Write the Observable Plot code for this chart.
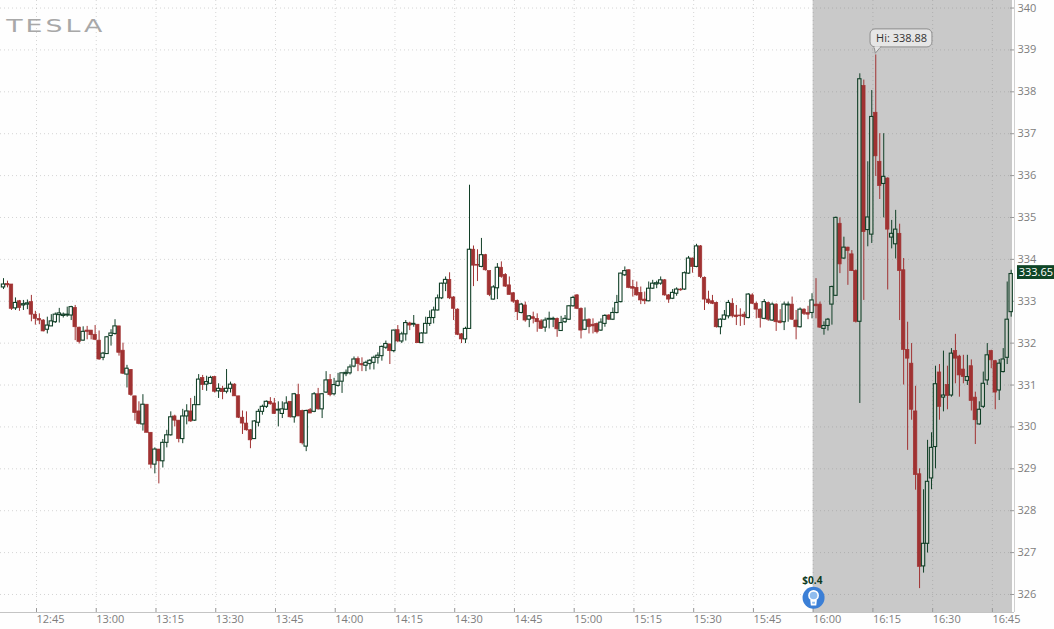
<!DOCTYPE html>
<html>
<head>
<meta charset="utf-8">
<script src="https://cdn.jsdelivr.net/npm/d3@7"></script>
<script src="https://cdn.jsdelivr.net/npm/@observablehq/plot@0.6"></script>
<style>
html,body{margin:0;padding:0;background:#fefefe;overflow:hidden}
svg{display:block}
</style>
</head>
<body>
<div id="chart"></div>
<script>
const firstBarMinute = 756.715; // 12:36 bar, minutes since midnight
const open = [
333.33,333.41,333.40,332.83,333.00,332.90,332.92,332.98,332.68,332.58,
332.54,332.32,332.40,332.50,332.67,332.65,332.66,332.66,332.84,332.37,
332.06,332.30,332.30,332.20,332.06,331.65,331.74,332.17,332.22,332.40,
331.82,331.25,331.36,330.73,330.37,330.06,330.53,329.86,329.10,329.46,
329.18,329.62,329.80,330.25,330.15,329.71,330.25,330.37,330.15,330.52,
331.17,331.01,331.03,331.19,330.85,330.91,330.84,330.91,331.01,330.73,
330.22,330.08,329.92,329.71,330.10,330.36,330.48,330.60,330.56,330.39,
330.31,330.41,330.60,330.23,330.76,330.38,329.53,330.40,330.36,330.78,
330.42,330.82,331.12,330.78,330.98,331.08,331.26,331.28,331.44,331.62,
331.50,331.46,331.50,331.53,331.65,331.69,331.89,331.97,331.81,332.31,
332.04,332.21,332.47,332.44,332.44,332.00,332.23,332.46,332.60,332.78,
333.07,333.42,333.51,333.09,332.80,332.21,332.09,332.34,334.23,333.87,
333.82,334.10,333.72,333.04,333.31,333.80,333.63,333.38,333.19,333.01,
332.72,332.90,332.56,332.62,332.58,332.52,332.37,332.56,332.56,332.58,
332.29,332.50,332.56,332.88,333.14,332.82,332.32,332.56,332.44,332.46,
332.30,332.46,332.66,332.56,332.72,332.98,333.62,333.74,333.34,333.32,
333.20,333.04,333.00,333.30,333.40,333.42,333.50,333.14,333.06,333.18,
333.28,333.28,333.66,334.02,333.82,334.31,333.56,333.04,333.00,332.96,
332.38,332.56,332.64,332.94,332.66,332.66,332.68,332.60,333.14,332.94,
332.80,332.58,332.96,332.54,332.92,332.52,332.50,332.90,332.92,332.54,
332.38,332.80,332.72,332.72,332.92,332.92,332.34,332.41,332.92,333.13,
334.85,334.02,334.28,334.12,333.72,332.51,338.14,334.70,334.59,337.50,
336.33,335.80,335.93,334.52,334.36,334.61,333.74,331.84,331.51,330.37,
328.87,326.67,327.21,328.77,329.52,331.30,330.70,331.00,330.75,331.81,
331.68,331.37,331.10,331.45,330.70,330.06,330.48,331.11,331.81,331.57,
330.87,331.31,331.65,332.74];
const high = [
333.54,333.48,333.40,333.08,333.02,333.02,333.03,333.14,332.76,332.70,
332.56,332.62,332.68,332.72,332.83,332.72,332.86,332.88,332.90,332.38,
332.39,332.40,332.30,332.42,332.29,331.78,332.16,332.32,332.56,332.40,
332.00,331.47,331.37,330.73,330.60,330.77,330.53,329.86,329.50,329.46,
329.70,329.92,330.36,330.28,330.15,330.42,330.53,330.68,330.73,331.25,
331.23,331.21,331.21,331.21,331.03,330.97,331.37,331.07,331.03,330.73,
330.38,330.36,329.94,330.15,330.42,330.52,330.62,330.70,330.68,330.60,
330.60,330.72,330.60,330.80,331.02,330.40,330.40,330.44,330.82,330.92,
330.80,331.32,331.25,331.16,331.28,331.28,331.36,331.48,331.67,331.67,
331.65,331.57,331.61,331.69,331.77,331.93,332.05,331.97,332.31,332.42,
332.26,332.54,332.50,332.66,332.44,332.25,332.62,332.77,332.86,333.15,
333.43,333.58,333.68,333.11,332.82,332.23,332.38,335.77,334.32,334.23,
334.50,334.12,333.72,333.37,333.90,333.94,333.66,333.58,333.21,333.03,
332.95,332.98,332.66,332.74,332.70,332.56,332.60,332.74,332.62,332.60,
332.64,332.66,332.90,333.12,333.16,332.84,332.84,332.58,332.58,332.48,
332.58,332.68,332.68,332.84,333.14,333.67,333.82,333.75,333.50,333.46,
333.34,333.22,333.46,333.50,333.48,333.58,333.52,333.16,333.28,333.32,
333.30,333.70,334.07,334.03,334.36,334.33,333.58,333.24,333.14,332.98,
332.58,332.78,333.02,333.06,332.90,332.82,332.74,333.18,333.18,332.98,
332.82,333.04,332.98,332.96,332.94,332.80,332.98,332.98,333.10,332.78,
332.84,332.82,332.88,333.18,333.54,332.98,332.51,332.59,333.36,335.01,
334.99,334.53,334.29,334.21,333.75,338.43,338.28,336.33,338.03,338.88,
337.00,337.00,335.95,334.93,335.17,334.84,334.02,332.50,331.99,330.97,
329.00,328.50,329.68,329.86,331.45,331.49,331.81,331.45,331.87,332.21,
331.71,331.71,331.71,331.60,330.83,330.60,331.31,331.99,331.83,331.59,
331.61,331.87,333.46,333.74];
const low = [
333.28,333.32,332.78,332.78,332.76,332.78,332.80,332.51,332.43,332.44,
332.27,332.22,332.40,332.47,332.48,332.60,332.62,332.54,332.06,331.98,
332.05,332.08,332.08,332.06,331.59,331.58,331.73,331.93,332.19,331.69,
331.25,330.93,330.73,330.14,330.05,329.90,329.86,329.00,328.88,328.64,
329.02,329.50,329.78,330.00,329.62,329.60,330.05,330.11,330.13,330.52,
330.87,330.85,331.01,330.81,330.68,330.65,330.79,330.81,330.73,330.20,
329.82,329.90,329.48,329.70,330.00,330.28,330.44,330.52,330.30,330.00,
330.20,330.41,330.21,330.09,330.25,329.57,329.41,330.32,330.34,330.40,
330.20,330.80,330.72,330.74,330.95,330.80,331.20,331.24,331.41,331.32,
331.32,331.32,331.36,331.36,331.50,331.57,331.85,331.49,331.77,332.01,
331.99,332.05,332.30,332.38,332.00,332.00,332.22,332.40,332.46,332.77,
333.04,333.23,333.04,332.54,332.18,331.99,331.99,332.33,333.35,333.47,
333.80,333.72,333.11,333.03,333.04,333.55,333.33,333.15,332.95,332.54,
332.70,332.50,332.37,332.46,332.26,332.33,332.26,332.34,332.37,332.14,
332.28,332.47,332.54,332.86,332.80,332.10,332.30,332.22,332.22,332.22,
332.28,332.38,332.54,332.54,332.70,332.96,333.59,333.30,333.10,333.12,
332.92,332.92,332.99,333.28,333.30,333.38,333.12,332.95,333.04,333.12,
333.24,333.26,333.64,333.67,333.80,333.54,332.78,332.92,332.92,332.36,
332.20,332.54,332.58,332.60,332.42,332.40,332.42,332.58,332.92,332.58,
332.36,332.56,332.52,332.52,332.28,332.46,332.30,332.50,332.54,332.08,
332.36,332.66,332.56,332.58,332.58,332.35,332.19,332.29,332.43,333.12,
333.66,334.00,333.38,333.71,332.48,330.56,333.02,334.30,334.38,335.98,
335.43,334.99,333.27,334.25,334.01,332.54,331.00,329.44,330.16,328.49,
326.14,326.51,326.99,328.50,329.00,330.16,330.36,330.41,330.71,331.03,
330.71,331.03,330.99,330.38,329.58,330.04,330.44,330.99,331.39,330.41,
330.63,331.29,331.49,332.62];
const close = [
333.40,333.38,332.82,332.96,332.84,332.93,332.95,332.68,332.58,332.54,
332.28,332.42,332.52,332.68,332.71,332.68,332.68,332.86,332.38,332.03,
332.27,332.27,332.19,332.08,331.61,331.75,332.14,332.23,332.40,331.77,
331.27,331.39,330.76,330.33,330.07,330.53,329.86,329.10,329.46,329.18,
329.62,329.80,330.23,330.15,329.71,330.25,330.37,330.13,330.52,331.13,
331.00,331.07,331.17,330.84,330.91,330.83,330.91,331.01,330.73,330.22,
330.08,329.92,329.68,330.13,330.36,330.48,330.60,330.54,330.31,330.41,
330.42,330.56,330.23,330.78,330.25,329.61,330.38,330.32,330.78,330.42,
330.78,331.11,330.76,331.00,331.08,331.28,331.29,331.42,331.61,331.50,
331.47,331.53,331.58,331.65,331.70,331.91,331.98,331.81,332.30,332.04,
332.21,332.48,332.42,332.46,332.00,332.23,332.46,332.60,332.78,333.07,
333.42,333.51,333.07,332.82,332.20,332.09,332.34,334.23,333.85,333.85,
334.10,333.74,333.15,333.33,333.80,333.58,333.35,333.15,332.99,332.74,
332.92,332.54,332.64,332.58,332.50,332.34,332.54,332.58,332.58,332.33,
332.48,332.58,332.88,333.08,332.82,332.30,332.54,332.38,332.40,332.26,
332.49,332.65,332.56,332.72,332.96,333.66,333.72,333.32,333.30,333.14,
333.02,333.00,333.30,333.42,333.43,333.50,333.14,333.04,333.20,333.28,
333.26,333.67,334.02,333.82,334.31,333.58,333.04,332.96,332.94,332.38,
332.56,332.66,332.96,332.64,332.62,332.64,332.62,333.16,332.94,332.80,
332.60,332.98,332.56,332.92,332.50,332.48,332.92,332.92,332.56,332.38,
332.80,332.70,332.68,333.02,332.88,332.37,332.41,332.56,333.34,334.99,
333.88,334.28,334.20,333.72,332.51,338.30,334.65,335.00,337.40,336.46,
335.75,335.97,334.71,334.61,334.71,333.72,331.84,331.63,330.41,328.85,
326.66,327.21,328.69,329.50,331.02,330.48,330.75,330.74,331.75,331.63,
331.23,331.19,331.19,330.62,330.16,330.41,331.03,331.71,331.59,330.82,
331.51,331.61,332.56,333.65];

const timeTicks = [765,780,795,810,825,840,855,870,885,900,915,930,945,960,975,990,1005];
const timeLabels = ["12:45","13:00","13:15","13:30","13:45","14:00","14:15","14:30","14:45","15:00","15:15","15:30","15:45","16:00","16:15","16:30","16:45"];
const priceTicks = [326,327,328,329,330,331,332,333,334,335,336,337,338,339,340];
const afterHoursStart = 960, afterHoursEnd = 1010.05;
const xMin = 755.96, xMax = 1010.55, yMin = 325.57, yMax = 340.18;

const RED = "#a03232", GREEN = "#113f27", BG = "#c9c9c9";
const bars = open.map((o, i) => ({t: firstBarMinute + i, o, h: high[i], l: low[i], c: close[i]}));
const up = d => d.c >= d.o;

const bulb = {draw(ctx) {
  ctx.moveTo(4.6, -2.4);
  ctx.arc(0, -2.4, 4.6, 0, Math.PI * 2);
  ctx.moveTo(-2.4, 3); ctx.lineTo(2.4, 3); ctx.lineTo(2, 6.8); ctx.lineTo(-2, 6.8); ctx.closePath();
}};

const chart = Plot.plot({
  width: 1054, height: 629,
  marginLeft: 0, marginRight: 40, marginTop: 0, marginBottom: 17,
  style: {background: "#fefefe", fontFamily: "'Open Sans', sans-serif"},
  x: {type: "linear", domain: [xMin, xMax], label: null},
  y: {type: "linear", domain: [yMin, yMax], label: null},
  marks: [
    Plot.rect([{}], {x1: afterHoursStart, x2: afterHoursEnd, y1: yMin, y2: yMax, fill: BG}),
    Plot.gridX(timeTicks, {stroke: "#777", strokeOpacity: 0.3, strokeDasharray: "1 3"}),
    Plot.gridY(priceTicks, {x1: xMin, x2: afterHoursEnd, stroke: "#777", strokeOpacity: 0.3, strokeDasharray: "1 3"}),
    Plot.ruleX(timeTicks, {y1: yMin, y2: yMin + 0.095, stroke: "#999"}),
    Plot.ruleY(priceTicks, {x1: xMax - 1, x2: xMax, stroke: "#999"}),
    Plot.ruleY([yMin], {stroke: "#c4c4c4"}),
    Plot.ruleX([xMax], {y1: yMin, y2: yMax, stroke: "#d0d0d0"}),
    Plot.axisX({ticks: timeTicks, tickFormat: d => timeLabels[timeTicks.indexOf(d)], tickSize: 0, tickPadding: 3, textAnchor: "start", fontSize: 11, fill: "#7d7d7d", label: null, anchor: "bottom"}),
    Plot.axisY({ticks: priceTicks, tickSize: 0, tickPadding: 3, fontSize: 11, fill: "#7d7d7d", label: null, anchor: "right"}),
    Plot.ruleX(bars, {x: "t", y1: "l", y2: "h", stroke: d => up(d) ? GREEN : RED, strokeWidth: 1}),
    Plot.rect(bars.filter(d => !up(d)), {x1: d => d.t - 0.44, x2: d => d.t + 0.44, y1: "o", y2: "c", fill: RED, stroke: RED, strokeWidth: 0.7}),
    Plot.rect(bars.filter(up), {x1: d => d.t - 0.42, x2: d => d.t + 0.42, y1: "o", y2: "c", fill: d => d.t >= afterHoursStart ? "#cfd2cc" : "#ffffff", stroke: GREEN, strokeWidth: 1.1}),
    // High callout
    Plot.rect([{}], {x1: 974.4, x2: 989.95, y1: 339.06, y2: 339.49, fill: "#e6e6e6", stroke: "#8d8d8d", rx: 5}),
    Plot.line([[975.3, 339.08], [975.6, 338.92], [977, 339.08]], {x: "0", y: "1", fill: "#e6e6e6", stroke: "#8d8d8d", strokeWidth: 1, curve: "linear"}),
    Plot.ruleY([339.06], {x1: 975.5, x2: 976.8, stroke: "#e6e6e6", strokeWidth: 1.5}),
    Plot.text(["Hi: 338.88"], {x: 982.2, y: 339.275, fontSize: 11, fill: "#333", text: d => d}),
    // Last price tag
    Plot.rect([{}], {x1: 1011.3, x2: 1020.6, y1: 333.52, y2: 333.85, fill: "#0f4526"}),
    Plot.text(["333.65"], {x: 1015.9, y: 333.69, fontSize: 11, fill: "#fff", text: d => d}),
    // Event marker
    Plot.dot([{}], {x: 960.1, y: 325.92, r: 11, fill: "#3b7fd6"}),
    Plot.dot([{}], {x: 960.1, y: 325.92, symbol: bulb, r: 5, fill: "#8fbcee", stroke: "#fff", strokeWidth: 1.6}),
    Plot.text(["$0.4"], {x: 959.8, y: 326.32, fontSize: 10, fontWeight: 700, fill: "#0d3a1f", text: d => d}),
    // Logo
    Plot.text(["TESLA"], {x: 757.4, y: 339.56, fontSize: 18, textAnchor: "start", fill: "#a8a8a8", text: d => d, fontFamily: "'DejaVu Sans', sans-serif", className: "logo"})
  ]
});
document.getElementById("chart").append(chart);
d3.select(chart).selectAll(".logo text").attr("textLength", 99).attr("lengthAdjust", "spacingAndGlyphs").style("letter-spacing", "2px");
</script>
</body>
</html>
